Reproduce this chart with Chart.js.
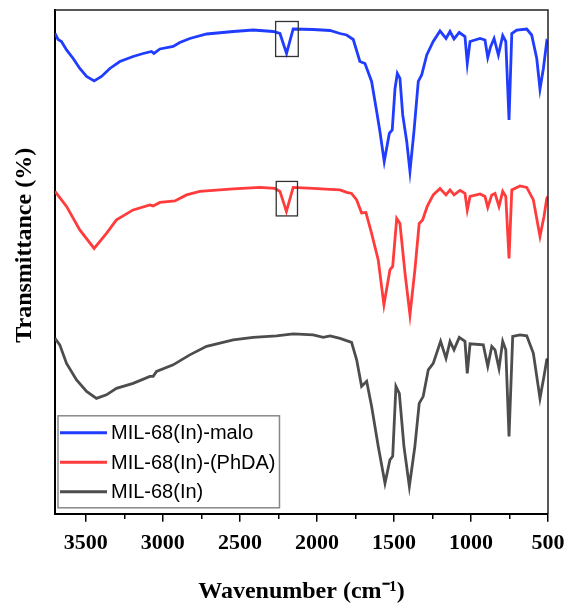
<!DOCTYPE html>
<html>
<head>
<meta charset="utf-8">
<script src="https://cdn.jsdelivr.net/npm/chart.js@4.4.1/dist/chart.umd.min.js"></script>
<style>
  html, body { margin: 0; padding: 0; background: #fff; }
</style>
</head>
<body>
<canvas id="ftir" width="568" height="609"></canvas>
<script>
// Spectra (wavenumber in cm-1, transmittance in arbitrary offset units)
const waveMalo = [3700,3680,3658,3625,3582,3539,3495,3446,3398,3344,3279,3193,3128,3073,3058,3019,2933,2890,2825,2716,2543,2414,2284,2240,2197,2154,2024,1915,1850,1807,1764,1721,1688,1645,1612,1591,1563,1530,1511,1493,1478,1461,1443,1417,1396,1370,1342,1320,1287,1245,1201,1162,1136,1110,1076,1039,1024,1006,941,909,891,872,850,822,794,774,753,735,703,638,606,573,552,530,508,500];
const transMalo = [96.1,94.9,94.5,92.8,91.1,89.1,87.5,86.6,87.5,89.1,90.5,91.5,92.1,92.5,92.1,93.0,93.5,94.3,95.1,96.0,96.5,96.8,96.5,96.1,92.1,97.0,96.9,96.7,96.1,95.8,94.9,90.5,90.1,86.5,80.5,76.5,70.5,76.1,76.8,85.1,88.1,87.1,79.8,74.5,68.5,76.5,86.5,87.8,91.8,94.5,96.6,95.1,96.5,95.0,96.3,95.5,90.1,94.5,95.1,94.8,91.3,93.5,95.1,91.8,95.7,94.5,78.8,96.1,96.8,97.0,95.8,91.1,85.0,89.1,94.5,94.2];

const wavePhDA = [3700,3625,3539,3446,3366,3301,3193,3084,3063,3019,2922,2846,2760,2543,2370,2273,2240,2198,2154,2026,1915,1850,1807,1775,1742,1710,1682,1645,1602,1565,1526,1508,1482,1461,1428,1396,1364,1336,1314,1284,1245,1201,1162,1136,1110,1071,1039,1024,1006,941,909,891,865,844,818,794,774,753,735,682,638,595,552,526,508,500];
const transPhDA = [64.5,61.5,56.8,53.1,56.1,58.8,60.8,61.8,61.6,62.3,62.6,63.8,64.5,65.0,65.3,65.1,64.5,60.5,65.3,65.1,64.9,64.8,64.3,64.1,62.8,60.2,60.3,56.1,50.8,41.8,48.8,49.5,59.1,58.1,48.1,39.8,48.8,58.1,58.8,61.5,63.8,65.1,63.8,64.8,63.8,64.7,64.1,60.8,63.5,64.0,63.5,61.3,63.8,64.1,61.5,64.5,63.5,51.1,64.8,65.6,65.3,62.8,55.5,59.5,63.1,63.5];

const waveBase = [3700,3669,3625,3560,3495,3431,3366,3301,3193,3084,3063,3041,2933,2825,2716,2543,2414,2262,2154,2024,1959,1915,1850,1775,1742,1710,1677,1645,1602,1558,1526,1508,1487,1465,1435,1400,1364,1336,1310,1277,1245,1197,1162,1136,1110,1076,1039,1024,1006,920,891,865,844,818,794,774,753,729,682,638,595,552,526,508,500];
const transBase = [35.1,33.8,30.1,26.8,24.5,23.1,23.8,25.1,26.1,27.5,27.5,28.5,29.8,31.8,33.5,34.8,35.3,35.6,36.0,35.8,35.3,35.6,35.1,34.3,30.8,25.5,26.5,21.5,13.5,6.1,10.8,11.5,25.5,24.1,13.5,5.5,13.5,22.1,23.5,28.8,30.1,34.5,31.1,34.5,32.8,35.3,34.5,28.1,34.0,33.8,29.5,33.5,32.8,29.1,34.5,32.8,15.5,35.5,35.8,35.6,32.1,23.1,27.5,30.8,31.0];

const seriesNames = ['MIL-68(In)-malo', 'MIL-68(In)-(PhDA)', 'MIL-68(In)'];
const seriesColors = ['#1f3cff', '#ff3b3b', '#4d4d4d'];

// x axis ticks: labelled majors and unlabelled minors
const majorTicks = [3500, 3000, 2500, 2000, 1500, 1000, 500];
const minorTicks = [3250, 2750, 2250, 1750, 1250, 750];

// boxes marking the C≡C band near 2200 cm-1: [wnFrom, wnTo, tTop, tBottom]
const peakBoxes = [[2268, 2121, 98.5, 91.5], [2264, 2126, 66.5, 59.6]];

const yTitle = 'Transmittance (%)';

function toPoints(xs, ys) {
    return xs.map((x, i) => ({ x: x, y: ys[i] }));
}

const serif = '"Liberation Serif", "Times New Roman", serif';

// frame, marked boxes, y title and legend
const extras = {
    id: 'extras',
    afterDatasetsDraw(chart) {
        const ctx = chart.ctx;
        const a = chart.chartArea;
        const xs = chart.scales.x, ys = chart.scales.y;
        ctx.save();

        // top and right sides of the frame
        ctx.strokeStyle = '#222';
        ctx.lineWidth = 1.5;
        ctx.beginPath();
        ctx.moveTo(a.left, a.top);
        ctx.lineTo(a.right, a.top);
        ctx.lineTo(a.right, a.bottom);
        ctx.stroke();

        // small rectangles
        ctx.strokeStyle = '#333';
        ctx.lineWidth = 1.3;
        peakBoxes.forEach(b => {
            const x1 = xs.getPixelForValue(b[0]), x2 = xs.getPixelForValue(b[1]);
            const y1 = ys.getPixelForValue(b[2]), y2 = ys.getPixelForValue(b[3]);
            ctx.strokeRect(x1, y1, x2 - x1, y2 - y1);
        });

        // y axis title, sitting a little above the middle as in the figure
        ctx.save();
        ctx.translate(a.left - 30, a.top + (a.bottom - a.top) * 0.467);
        ctx.rotate(-Math.PI / 2);
        ctx.font = 'bold 24px ' + serif;
        ctx.fillStyle = '#000';
        ctx.textAlign = 'center';
        ctx.textBaseline = 'middle';
        ctx.fillText(yTitle, 0, 0);
        ctx.restore();

        // legend
        ctx.font = '20px "Liberation Sans", Arial, sans-serif';
        let maxW = 0;
        chart.data.datasets.forEach(d => { maxW = Math.max(maxW, ctx.measureText(d.label).width); });
        const lx = a.left + 3, ly = a.bottom - 98;
        const bw = 53 + maxW + 4, bh = 92;
        ctx.fillStyle = '#fff';
        ctx.fillRect(lx, ly, bw, bh);
        ctx.strokeStyle = '#888';
        ctx.lineWidth = 1.5;
        ctx.strokeRect(lx, ly, bw, bh);
        ctx.textBaseline = 'middle';
        chart.data.datasets.forEach((d, i) => {
            const yy = ly + 17 + i * 29.5;
            ctx.strokeStyle = d.borderColor;
            ctx.lineWidth = 3;
            ctx.beginPath();
            ctx.moveTo(lx + 2, yy);
            ctx.lineTo(lx + 49, yy);
            ctx.stroke();
            ctx.fillStyle = '#000';
            ctx.fillText(d.label, lx + 53, yy + 1);
        });
        ctx.restore();
    }
};

const ctx = document.getElementById('ftir').getContext('2d');
new Chart(ctx, {
    type: 'line',
    data: {
        datasets: [
            { label: seriesNames[0], data: toPoints(waveMalo, transMalo), borderColor: seriesColors[0] },
            { label: seriesNames[1], data: toPoints(wavePhDA, transPhDA), borderColor: seriesColors[1] },
            { label: seriesNames[2], data: toPoints(waveBase, transBase), borderColor: seriesColors[2] }
        ]
    },
    options: {
        responsive: false,
        animation: false,
        elements: {
            point: { radius: 0 },
            line: { borderWidth: 2.8, tension: 0, fill: false }
        },
        layout: { padding: { top: 10, right: 20, left: 0, bottom: 0 } },
        plugins: {
            legend: { display: false },
            tooltip: { enabled: false }
        },
        scales: {
            x: {
                type: 'linear',
                reverse: true,
                min: 500,
                max: 3700,
                afterBuildTicks: scale => {
                    scale.ticks = majorTicks.concat(minorTicks)
                        .sort((p, q) => q - p)
                        .map(v => ({ value: v }));
                },
                afterFit: scale => {
                    scale.paddingRight = 0;
                },
                ticks: {
                    autoSkip: false,
                    maxRotation: 0,
                    padding: 8,
                    color: '#000',
                    font: { family: serif, size: 22, weight: 'bold' },
                    callback: v => (majorTicks.includes(v) ? String(v) : '')
                },
                grid: {
                    display: true,
                    drawOnChartArea: false,
                    drawTicks: true,
                    tickLength: 8,
                    tickBorderDash: c => (c.tick && majorTicks.includes(c.tick.value) ? [] : [4, 40]),
                    color: '#000',
                    lineWidth: 1.5
                },
                border: { display: true, color: '#000', width: 2 },
                title: {
                    display: true,
                    text: 'Wavenumber (cm⁻¹)',
                    color: '#000',
                    font: { family: serif, size: 24, weight: 'bold' },
                    padding: { top: 13, bottom: 3 }
                }
            },
            y: {
                min: 0,
                max: 100.8,
                afterFit: scale => {
                    scale.width = 55;
                },
                ticks: { display: false },
                grid: { display: false, drawTicks: false },
                border: { display: true, color: '#000', width: 2 },
                title: { display: false }
            }
        }
    },
    plugins: [extras]
});
</script>
</body>
</html>
